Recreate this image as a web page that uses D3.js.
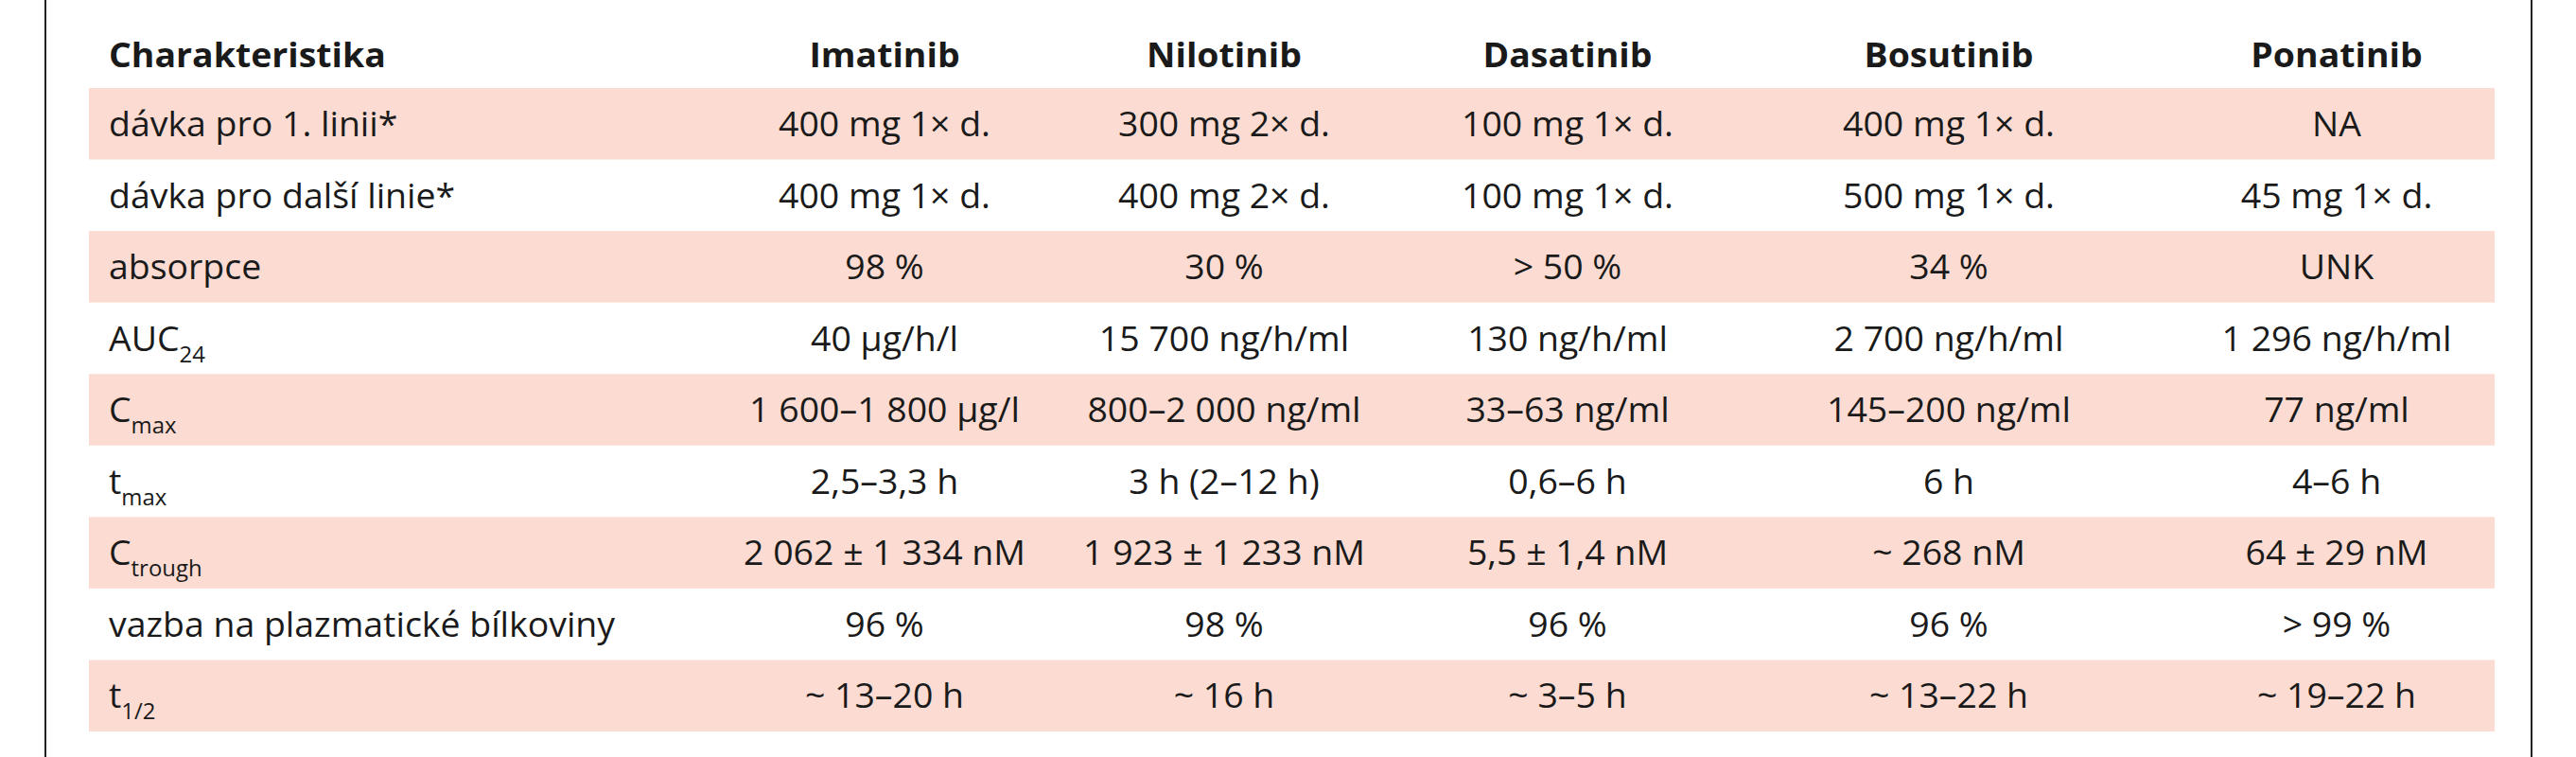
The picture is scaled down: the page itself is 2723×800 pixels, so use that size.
<!DOCTYPE html>
<html><head><meta charset="utf-8">
<script src="https://cdn.jsdelivr.net/npm/d3@7"></script>
<style>body{margin:0;background:#fff}</style>
</head><body>
<div id="chart"></div>
<script>
var columns = ["Charakteristika", "Imatinib", "Nilotinib", "Dasatinib", "Bosutinib", "Ponatinib"];
// row label: [main, subscript]
var rowLabels = [["dávka pro 1. linii*", ""], ["dávka pro další linie*", ""], ["absorpce", ""], ["AUC", "24"],
	["C", "max"], ["t", "max"], ["C", "trough"], ["vazba na plazmatické bílkoviny", ""], ["t", "1/2"]];
var imatinib = ["400 mg 1× d.", "400 mg 1× d.", "98 %", "40 µg/h/l", "1 600–1 800 µg/l", "2,5–3,3 h", "2 062 ± 1 334 nM", "96 %", "~ 13–20 h"];
var nilotinib = ["300 mg 2× d.", "400 mg 2× d.", "30 %", "15 700 ng/h/ml", "800–2 000 ng/ml", "3 h (2–12 h)", "1 923 ± 1 233 nM", "98 %", "~ 16 h"];
var dasatinib = ["100 mg 1× d.", "100 mg 1× d.", "> 50 %", "130 ng/h/ml", "33–63 ng/ml", "0,6–6 h", "5,5 ± 1,4 nM", "96 %", "~ 3–5 h"];
var bosutinib = ["400 mg 1× d.", "500 mg 1× d.", "34 %", "2 700 ng/h/ml", "145–200 ng/ml", "6 h", "~ 268 nM", "96 %", "~ 13–22 h"];
var ponatinib = ["NA", "45 mg 1× d.", "UNK", "1 296 ng/h/ml", "77 ng/ml", "4–6 h", "64 ± 29 nM", "> 99 %", "~ 19–22 h"];
var series = [imatinib, nilotinib, dasatinib, bosutinib, ponatinib];
var colCenters = [935, 1294, 1657, 2060, 2470];

var W = 2723, H = 800;
var svg = d3.select("#chart").append("svg").attr("width", W).attr("height", H);
var font = "'Open Sans', 'Noto Sans', sans-serif";
var sx = 1.04;

svg.append("line").attr("x1", 48).attr("x2", 48).attr("y1", 0).attr("y2", H).attr("stroke", "#222").attr("stroke-width", 2);
svg.append("line").attr("x1", 2676).attr("x2", 2676).attr("y1", 0).attr("y2", H).attr("stroke", "#222").attr("stroke-width", 2);

var y = d3.scaleBand().domain(d3.range(rowLabels.length)).range([93, 773]).padding(0);
var x = d3.scaleOrdinal().domain(columns.slice(1)).range(colCenters);

svg.selectAll("rect.band").data(d3.range(rowLabels.length).filter(function(i){ return i % 2 == 0; }))
	.enter().append("rect")
	.attr("x", 94).attr("width", 2637 - 94)
	.attr("y", function(i){ return y(i); }).attr("height", y.bandwidth())
	.attr("fill", "#fcdcd2");

function txt(x0, y0, anchor){
	return svg.append("text")
		.attr("transform", "translate(" + x0 + "," + y0 + ") scale(" + sx + ",1)")
		.attr("text-anchor", anchor)
		.attr("font-family", font).attr("font-size", 36).attr("fill", "#1a1a1a");
}

// header
txt(115, 71, "start").attr("font-weight", "bold").text(columns[0]);
columns.slice(1).forEach(function(c){
	txt(x(c), 71, "middle").attr("font-weight", "bold").text(c);
});

rowLabels.forEach(function(r, i){
	var base = y(i) + 51;
	var t = txt(115, base, "start");
	t.append("tspan").text(r[0]);
	if(r[1]){
		t.append("tspan").attr("dy", 12).attr("font-size", 23).text(r[1]);
	}
	series.forEach(function(s, j){
		txt(x(columns[j + 1]), base, "middle").text(s[i]);
	});
});
</script>
</body></html>
